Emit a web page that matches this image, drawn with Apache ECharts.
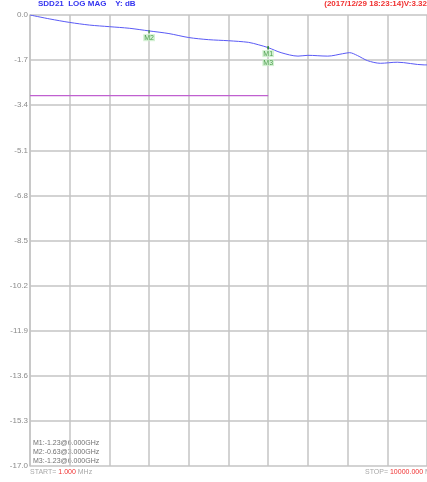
<!DOCTYPE html>
<html>
<head>
<meta charset="utf-8">
<script src="https://cdn.jsdelivr.net/npm/echarts@6/dist/echarts.min.js"></script>
<style>
  html, body { margin: 0; padding: 0; background: #fff; }
  #chart { width: 427px; height: 482px; }
</style>
</head>
<body>
<div id="chart"></div>
<script>
// trace SDD21, frequency in MHz, magnitude in dB
const freqMHz = [0, 500, 1000, 1500, 2000, 2500, 3000, 3500, 4000, 4500, 5000, 5500, 5750, 6000, 6325, 6750, 7000, 7500, 7875, 8050, 8250, 8500, 8825, 9250, 9925, 10000]
const magDb = [0.0, -0.15, -0.28, -0.38, -0.44, -0.5, -0.6, -0.7, -0.85, -0.93, -0.97, -1.03, -1.12, -1.23, -1.42, -1.55, -1.52, -1.55, -1.46, -1.42, -1.53, -1.72, -1.82, -1.78, -1.88, -1.88]

// limit line
const limitFreq = [0, 6000]
const limitDb = [-3.04, -3.04]

// markers
const markerNames = ["M1", "M2", "M3"]
const markerFreq = [6000, 3000, 6000]
const markerDb = [-1.23, -0.63, -1.23]
const markerLabelOffset = [6, 6, 15]

const markerLines = markerNames.map((n, i) =>
  n + ":" + markerDb[i].toFixed(2) + "@" + (markerFreq[i] / 1000).toFixed(3) + "GHz")

let chart = echarts.init(document.getElementById("chart"))

chart.setOption({
  animation: false,
  grid: {
    left: 30,
    top: 15,
    width: 400,
    height: 451
  },
  xAxis: {
    type: "value",
    min: 0,
    max: 10000,
    interval: 1000,
    axisLine: { show: false },
    axisTick: { show: false },
    axisLabel: { show: false },
    splitLine: { lineStyle: { color: "#c4c4c4", width: 1.5 } }
  },
  yAxis: {
    type: "value",
    min: -17,
    max: 0,
    interval: 1.7,
    axisLine: { show: true, lineStyle: { color: "#c4c4c4", width: 1.5 } },
    axisTick: { show: false },
    axisLabel: {
      color: "#8a8a8a",
      fontSize: 8,
      fontFamily: "Arial",
      margin: 2,
      formatter: (v) => v.toFixed(1)
    },
    splitLine: { lineStyle: { color: "#c4c4c4", width: 1.5 } }
  },
  series: [
    {
      type: "line",
      data: limitFreq.map((f, i) => [f, limitDb[i]]),
      symbol: "none",
      itemStyle: { color: "#c060d0" },
      lineStyle: { color: "#c060d0", width: 1.2 },
      z: 3
    },
    {
      type: "line",
      data: freqMHz.map((f, i) => [f, magDb[i]]),
      symbol: "none",
      smooth: 0.3,
      lineStyle: { color: "#5a5af5", width: 1 }
    },
    {
      type: "scatter",
      data: markerNames.map((n, i) => ({
        value: [markerFreq[i], markerDb[i]],
        label: { offset: [0, markerLabelOffset[i]] }
      })),
      symbol: "rect",
      symbolSize: [1.5, 3],
      itemStyle: { color: "#2e8b2e" },
      label: {
        show: true,
        position: "inside",
        formatter: (p) => markerNames[p.dataIndex],
        color: "#2a8a2a",
        fontSize: 7,
        fontFamily: "Arial",
        backgroundColor: "#c8eec8",
        padding: [0, 1]
      },
      z: 5
    }
  ],
  graphic: [
    {
      type: "text", left: 38, top: 0,
      style: { text: "SDD21  LOG MAG    Y: dB", fill: "#3535f0", font: "bold 8px Arial" }
    },
    {
      type: "text", right: 0, top: 0,
      style: { text: "(2017/12/29 18:23:14)V:3.32", fill: "#f03030", font: "bold 8px Arial" }
    },
    {
      type: "text", left: 33, top: 439,
      style: { text: markerLines.join("\n"), fill: "#707070", font: "7px Arial", lineHeight: 9 }
    },
    {
      type: "text", left: 30, top: 469,
      style: {
        text: "{g|START= }{r|1.000}{g| MHz}",
        rich: {
          g: { fill: "#a8a8a8", font: "7px Arial" },
          r: { fill: "#f03030", font: "7px Arial" }
        }
      }
    },
    {
      type: "text", left: 365, top: 469,
      style: {
        text: "{g|STOP= }{r|10000.000}{g| MHz}",
        rich: {
          g: { fill: "#a8a8a8", font: "7px Arial" },
          r: { fill: "#f03030", font: "7px Arial" }
        }
      }
    }
  ]
})
</script>
</body>
</html>
